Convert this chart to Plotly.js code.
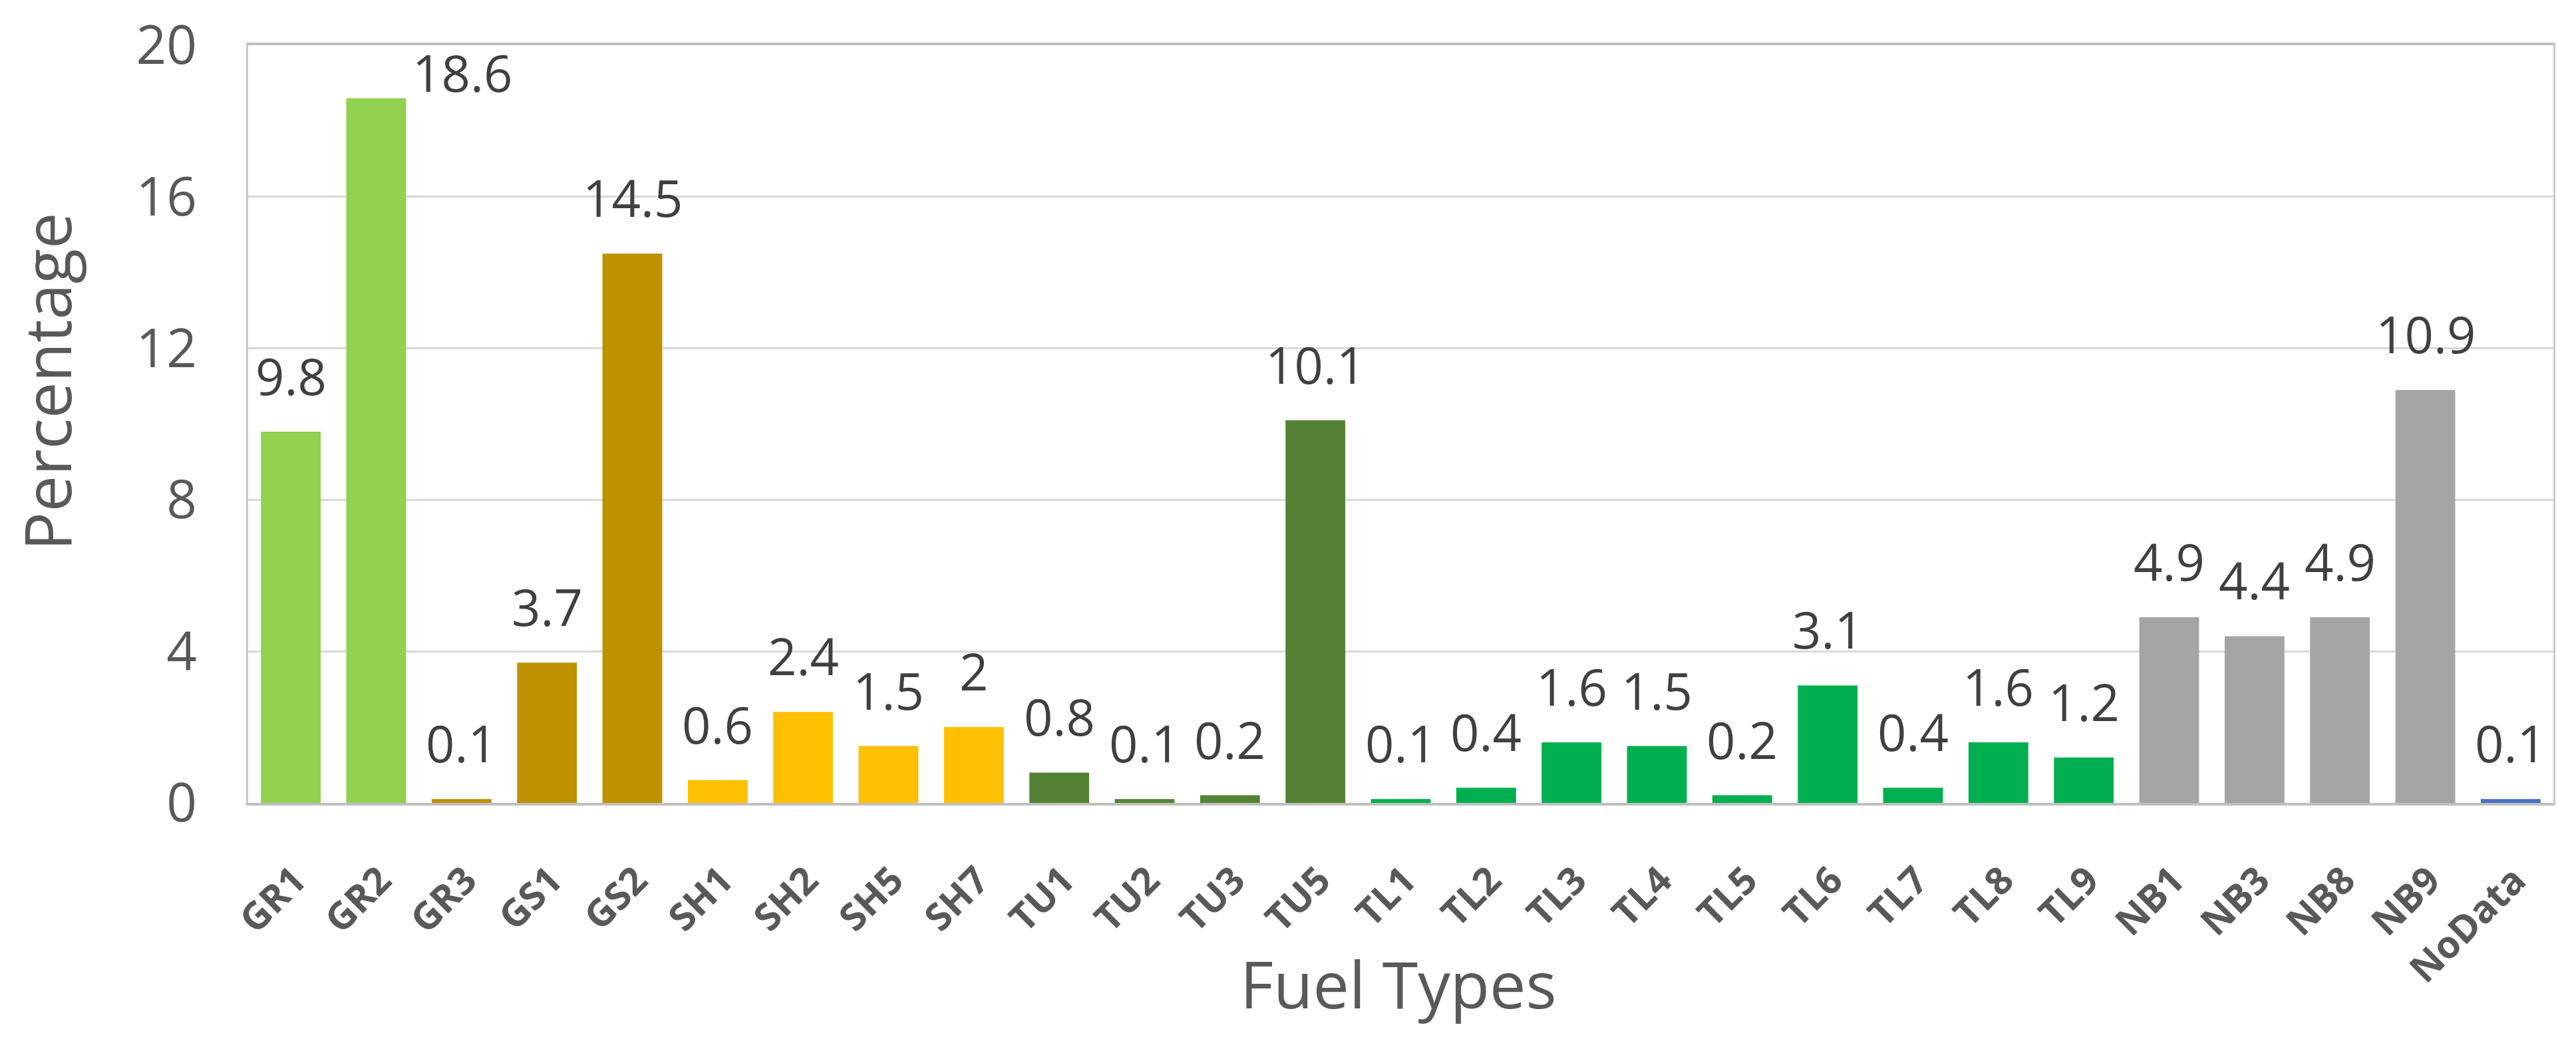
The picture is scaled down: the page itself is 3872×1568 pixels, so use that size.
<!DOCTYPE html>
<html>
<head>
<meta charset="utf-8">
<script src="https://cdn.plot.ly/plotly-3.0.1.min.js"></script>
<style>
  html, body { margin: 0; padding: 0; background: #ffffff; }
  #chart { width: 3872px; height: 1568px; }
</style>
</head>
<body>
<div id="chart"></div>
<script>
// ---- data ----
const categories = ['GR1','GR2','GR3','GS1','GS2','SH1','SH2','SH5','SH7','TU1','TU2','TU3','TU5',
                    'TL1','TL2','TL3','TL4','TL5','TL6','TL7','TL8','TL9','NB1','NB3','NB8','NB9','NoData'];
const values = [9.8, 18.6, 0.1, 3.7, 14.5, 0.6, 2.4, 1.5, 2, 0.8, 0.1, 0.2, 10.1,
                0.1, 0.4, 1.6, 1.5, 0.2, 3.1, 0.4, 1.6, 1.2, 4.9, 4.4, 4.9, 10.9, 0.1];
const yTickValues = [0, 4, 8, 12, 16, 20];
const xTitle = 'Fuel Types';
const yTitle = 'Percentage';

// ---- styles ----
const barColors = ['#92D050','#92D050','#BF9000','#BF9000','#BF9000',
                   '#FFC000','#FFC000','#FFC000','#FFC000',
                   '#548235','#548235','#548235','#548235',
                   '#00B050','#00B050','#00B050','#00B050','#00B050','#00B050','#00B050','#00B050','#00B050',
                   '#A5A5A5','#A5A5A5','#A5A5A5','#A5A5A5','#4472C4'];

const yMax = 20;
const labelFont = {family: 'Open Sans', size: 76, color: '#404040'};
const titleFont = {family: 'Open Sans', size: 97, color: '#595959'};

const annotations = categories.map((c, i) => {
  const v = values[i];
  const tooHigh = v > yMax - 2.2;
  return {
    x: c, y: v, xref: 'x', yref: 'y',
    text: String(v),
    showarrow: false,
    font: labelFont,
    xanchor: tooHigh ? 'left' : 'center',
    yanchor: 'bottom',
    xshift: tooHigh ? 52 : 0,
    yshift: tooHigh ? -14 : 31
  };
});

// axis titles placed as annotations for exact positioning
annotations.push({
  text: xTitle, xref: 'paper', yref: 'paper', x: 0.5, y: 0,
  xanchor: 'center', yanchor: 'top', yshift: -203, xshift: -4,
  showarrow: false, font: titleFont
});
annotations.push({
  text: yTitle, xref: 'paper', yref: 'paper', x: 0, y: 0.5558,
  xanchor: 'left', yanchor: 'middle', xshift: -372, textangle: -90,
  showarrow: false, font: titleFont
});

const trace = {
  type: 'bar',
  x: categories,
  y: values,
  marker: {color: barColors, line: {width: 0}},
  hoverinfo: 'x+y'
};

const layout = {
  width: 3872, height: 1568,
  margin: {l: 373, r: 34, t: 68, b: 361, pad: 0},
  paper_bgcolor: '#ffffff',
  plot_bgcolor: '#ffffff',
  font: {family: 'Open Sans', color: '#595959'},
  showlegend: false,
  bargap: 0.3,
  xaxis: {
    type: 'category',
    tickangle: -45,
    tickfont: {family: 'Open Sans', size: 57, color: '#595959', weight: 'bold'},
    ticks: '',
    ticklabelstandoff: 56,
    ticklabelshift: 6,
    showline: true, linecolor: '#BFBFBF', linewidth: 4, mirror: true,
    showgrid: false, zeroline: false,
    automargin: false
  },
  yaxis: {
    range: [0, yMax],
    tickvals: yTickValues,
    ticktext: yTickValues.map(String),
    tickfont: {family: 'Open Sans', size: 80, color: '#595959'},
    ticks: '',
    ticklabelstandoff: 58,
    showline: true, linecolor: '#C8C8C8', linewidth: 3, mirror: true,
    showgrid: true, gridcolor: '#D9D9D9', gridwidth: 3,
    zeroline: false,
    automargin: false
  },
  annotations: annotations
};

Plotly.newPlot('chart', [trace], layout, {displayModeBar: false, staticPlot: true});
</script>
</body>
</html>
